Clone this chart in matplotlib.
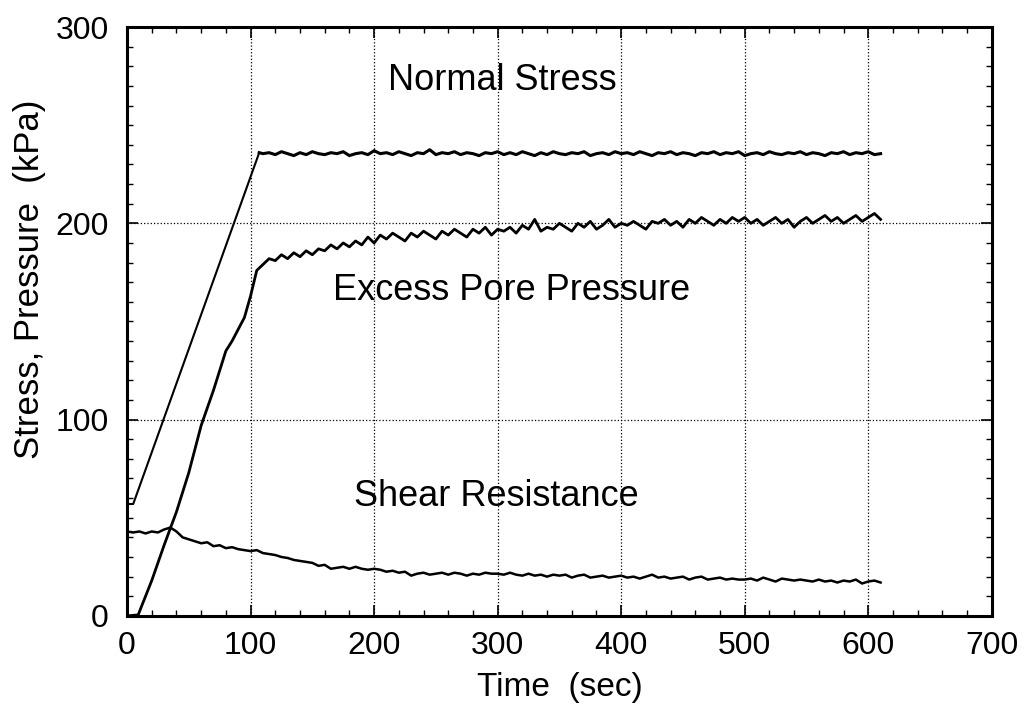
import numpy as np
import matplotlib
matplotlib.use("Agg")
import matplotlib.pyplot as plt
from matplotlib.ticker import MultipleLocator

# ---- data ----
# normal stress: loading ramp, then held constant
normal_ramp_t = [0, 5, 107]
normal_ramp_v = [57, 57, 236]
normal_flat_t = list(range(110, 615, 5))
normal_flat_v = [235.5, 236, 235, 236.5, 235.5, 234.5, 236, 235, 236.5, 235.5,
                 235, 236, 235.5, 236.5, 234.5, 235.5, 236, 235, 237, 235.5,
                 236, 235, 236.5, 235.5, 234.5, 236, 235.5, 237.5, 235, 236,
                 235.5, 236.5, 235, 236, 235.5, 234.5, 236, 235.5, 236.5, 235,
                 236, 235, 236.5, 235.5, 234.5, 236, 235, 236.5, 235.5, 235,
                 236, 235.5, 236.5, 234.5, 235.5, 236, 235, 236.5, 235.5, 236,
                 235, 236.5, 235.5, 234.5, 236, 235.5, 236.5, 235, 236, 235.5,
                 234.5, 236, 235.5, 236.5, 235, 236, 235.5, 236.5, 234.5, 235.5,
                 236, 235, 236.5, 235.5, 235, 236, 235.5, 236.5, 235, 236,
                 235.5, 234.5, 236, 235.5, 236.5, 235, 236, 235.5, 236.5, 235, 235.5]

# excess pore pressure
pore_ramp_t = [0, 9, 20, 30, 40, 50, 60, 70, 80, 85, 90, 95, 100, 105]
pore_ramp_v = [0, 0.5, 18, 36, 53, 73, 97, 115, 135, 140, 146, 152, 163, 176]
pore_flat_t = list(range(110, 615, 5))
pore_flat_v = [179, 182, 181, 184, 182, 185, 183, 186, 184, 187,
               186, 189, 187, 190, 188, 191, 189, 193, 190, 194,
               192, 195, 193, 191, 195, 193, 196, 194, 192, 196,
               194, 197, 195, 193, 197, 195, 198, 194, 197, 196,
               198, 195, 199, 197, 202, 196, 198, 197, 200, 198,
               196, 200, 198, 201, 197, 199, 202, 198, 200, 199,
               201, 199, 197, 201, 200, 202, 199, 201, 198, 202,
               200, 203, 201, 199, 202, 200, 203, 201, 203, 200,
               202, 199, 201, 203, 200, 202, 198, 201, 203, 200,
               202, 204, 201, 203, 200, 202, 204, 201, 203, 205,
               202]

# shear resistance
shear_t = list(range(0, 615, 5))
shear_v = [43, 42.5, 43, 42, 43, 42.5, 44, 45, 43, 40,
           39, 38, 37, 37.5, 35.5, 36, 34.5, 35, 34, 33.5,
           33, 33.5, 32, 31.5, 31, 30, 29.5, 28.5, 28, 27.5,
           27, 25.5, 26, 24, 24.5, 25, 24, 25, 24, 23.5,
           24, 23.5, 22.5, 23, 22, 22.5, 20.5, 21.5, 22, 21,
           21.5, 22, 21, 22, 21.5, 20.5, 21.5, 21, 22, 21.5,
           21.5, 21, 22, 21, 20.5, 21.5, 20.5, 21, 20, 21,
           20.5, 21, 19.5, 20.5, 21, 19.5, 20, 20.5, 19.5, 20,
           20.5, 19.5, 20, 19, 20, 21, 19.5, 20, 19, 19.5,
           20, 18.5, 19.5, 20, 18.5, 19, 19.5, 18.5, 19, 18.5,
           18.5, 19, 18, 19.5, 18.5, 17.5, 19, 18.5, 18, 18.5,
           18, 17.5, 18.5, 17.5, 18, 17, 18, 17.5, 18.5, 16.5,
           17.5, 18, 17]

labels = ["Normal Stress", "Excess Pore Pressure", "Shear Resistance"]

plt.rcParams['font.family'] = ['Liberation Sans', 'DejaVu Sans']

fig = plt.figure(figsize=(10.27, 7.12), dpi=100)
ax = fig.add_axes([0.1237, 0.135, 0.842, 0.827])

ax.plot(normal_ramp_t, normal_ramp_v, color='black', lw=1.5)
ax.plot([normal_ramp_t[-1]] + normal_flat_t, [normal_ramp_v[-1]] + normal_flat_v, color='black', lw=2.2)
ax.plot(pore_ramp_t + pore_flat_t, pore_ramp_v + pore_flat_v, color='black', lw=2.0)
ax.plot(shear_t, shear_v, color='black', lw=1.8)

ax.text(304, 273, labels[0], fontsize=26, ha='center', va='center')
ax.text(311, 166, labels[1], fontsize=26, ha='center', va='center')
ax.text(299, 61, labels[2], fontsize=26, ha='center', va='center')

ax.set_xlim(0, 700)
ax.set_ylim(0, 300)
ax.xaxis.set_major_locator(MultipleLocator(100))
ax.xaxis.set_minor_locator(MultipleLocator(20))
ax.yaxis.set_major_locator(MultipleLocator(100))
ax.yaxis.set_minor_locator(MultipleLocator(10))
ax.tick_params(which='both', direction='in', top=True, right=True, labelsize=23, colors='black')
ax.tick_params(which='major', length=8, width=1.2)
ax.tick_params(axis='x', which='major', pad=11)
ax.tick_params(axis='y', which='major', pad=13)
ax.tick_params(which='minor', length=4.5, width=1)
ax.grid(True, which='major', color='black', linestyle=':', linewidth=0.9)
for s in ax.spines.values():
    s.set_linewidth(2.2)

ax.set_xlabel("Time  (sec)", fontsize=24, labelpad=8)
ax.set_ylabel("Stress, Pressure  (kPa)", fontsize=25)
ax.yaxis.set_label_coords(-0.094, 0.572)

fig.savefig("out.png", dpi=100)
